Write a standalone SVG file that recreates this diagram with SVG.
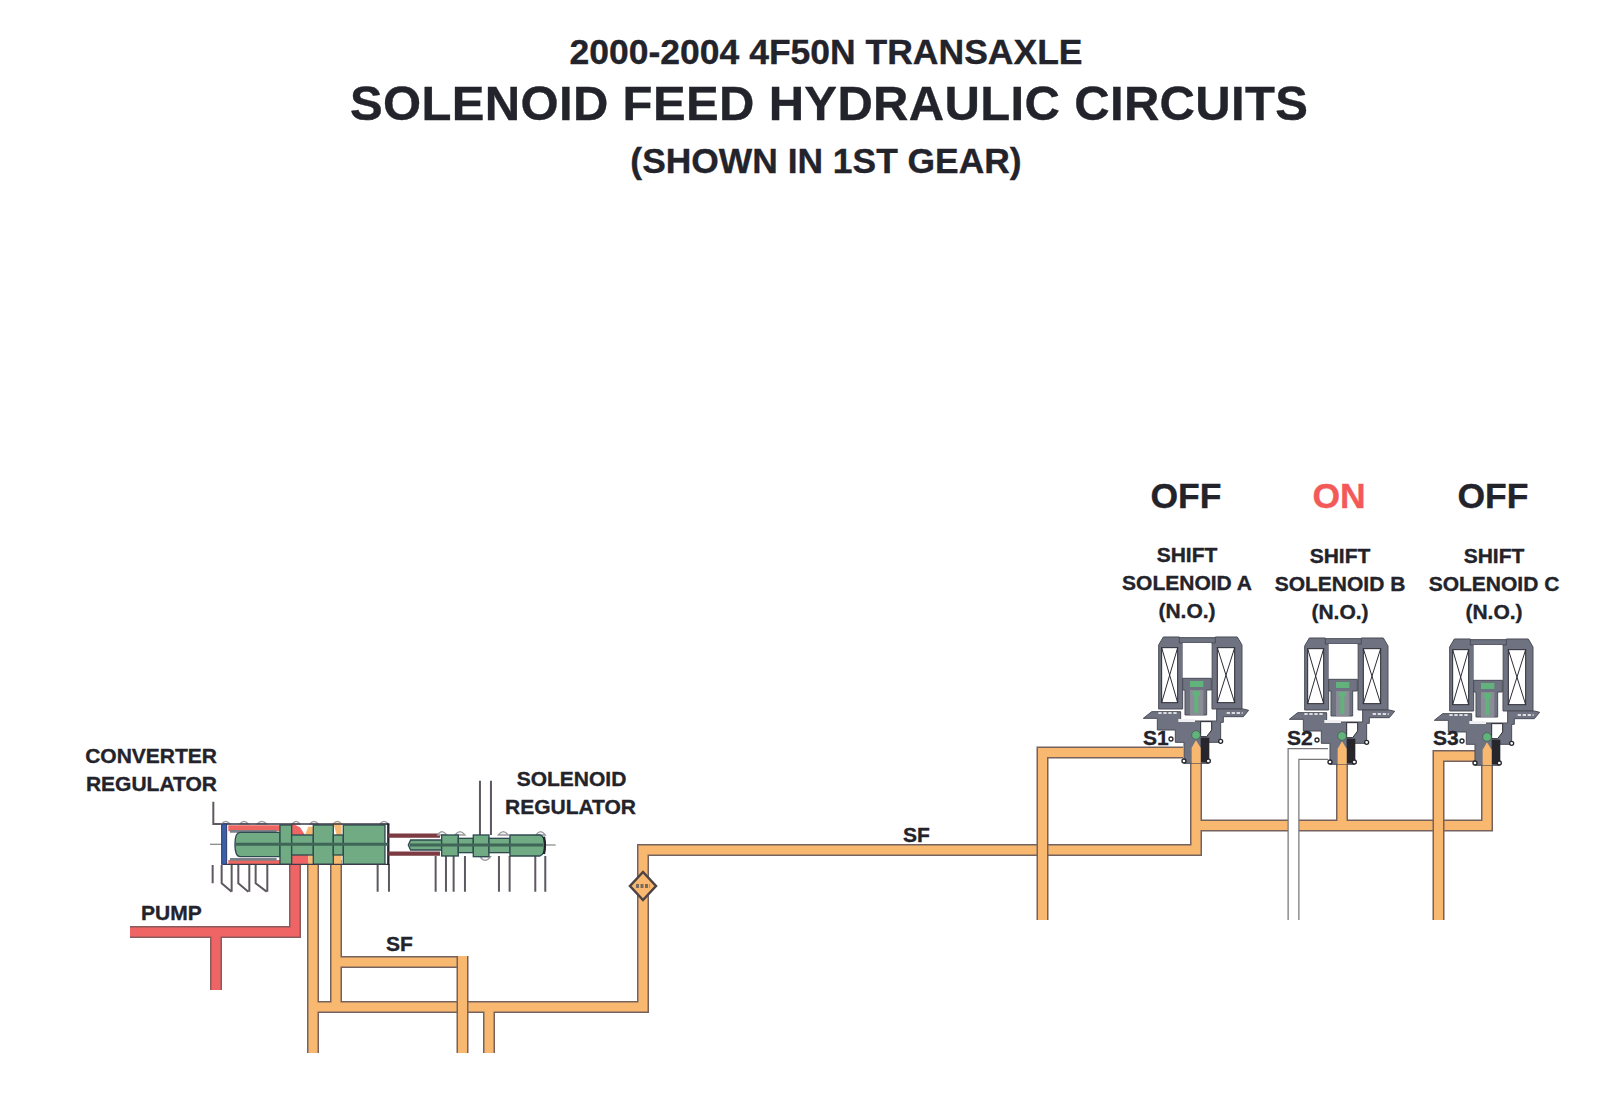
<svg xmlns="http://www.w3.org/2000/svg" xmlns:xlink="http://www.w3.org/1999/xlink" width="1600" height="1114" viewBox="0 0 1600 1114">
<style>
text{font-family:"Liberation Sans",Arial,sans-serif;font-weight:700;fill:#23232b;stroke:#23232b;stroke-width:.35}
.lab{font-size:21px}
.mid{text-anchor:middle}
.st{font-size:35.500px}
.po,.pf,.ro,.rf,.wo,.wf{fill:none;stroke-linejoin:miter}
.po{stroke:#75625f;stroke-width:12}
.pf{stroke:#f8b86f;stroke-width:9}
.ro{stroke:#8b5a5c;stroke-width:12}
.rf{stroke:#ef6464;stroke-width:9}
.wo{stroke:#77757a;stroke-width:12}
.wf{stroke:#fff;stroke-width:9.500}
.g{fill:#70ab84;stroke:#2f4a50;stroke-width:4}
.port{fill:none;stroke:#5e5860;stroke-width:6}
.bump{fill:#f4f4f2;stroke:#9a9aa0;stroke-width:4}
.axis{fill:none;stroke:#3f6657;stroke-width:9}
.stub{fill:none;stroke:#8d9290;stroke-width:4}
.h{fill:#6f7280;stroke:#4a4c56;stroke-width:3}
.thin{fill:#fff;stroke:#2b2b33;stroke-width:3}
</style>
<defs>
<g id="sol">
<path class="h" d="M146 90L160 66H208L218 85V282H146Z"/>
<path class="h" d="M306 85L316 66H382L396 90V282H306Z"/>
<path class="h" d="M208 68H316V84H208Z"/>
<rect x="218" y="84" width="86" height="106" fill="#fff"/>
<rect class="thin" x="155" y="98" width="48" height="165"/>
<path class="thin" fill="none" d="M155 98L203 263M203 98L155 263"/>
<rect class="thin" x="322" y="98" width="52" height="165"/>
<path class="thin" fill="none" d="M322 98L374 263M374 98L322 263"/>
<path class="h" d="M218 190H304V225H290V300H225V225H218Z"/>
<rect x="240" y="198" width="40" height="18" fill="#62b27c"/>
<rect x="240" y="225" width="40" height="75" fill="#8a8c96"/>
<rect x="248" y="228" width="22" height="14" fill="#62b27c"/>
<rect x="253" y="240" width="12" height="54" fill="#62b27c"/>
<path class="h" d="M100 310L125 290H212V318H320V282H400L416 286L400 305H340V322H332V382H295V445H222V382H196V345H142V310Z"/>
<path d="M145 294H205M350 294H398" stroke="#fff" stroke-width="5" stroke-dasharray="10 5" fill="none"/>
<rect x="205" y="312" width="50" height="9" fill="#f0f0f2"/>
<path d="M272 320H305V345L290 365H272Z" fill="#fff" stroke="#2b2b33" stroke-width="3"/>
<rect x="272" y="368" width="26" height="74" fill="#26262c"/>
<path d="M245 445V398L258 376L272 398V445Z" fill="#f8b86f"/>
<circle cx="258" cy="360" r="13" fill="#62b27c" stroke="#3c5a50" stroke-width="2"/>
<circle cx="183" cy="372" r="6" fill="#fff" stroke="#26262c" stroke-width="4"/>
<circle cx="332" cy="379" r="6" fill="#fff" stroke="#26262c" stroke-width="4"/>
<circle cx="222" cy="438" r="6" fill="#fff" stroke="#26262c" stroke-width="4"/>
<circle cx="295" cy="438" r="6" fill="#fff" stroke="#26262c" stroke-width="4"/>
</g>
</defs>
<rect width="1600" height="1114" fill="#fff"/>
<g id="title">
<text class="mid" x="826" y="64" font-size="35.500">2000-2004 4F50N TRANSAXLE</text>
<text class="mid" x="829" y="120" font-size="49" textLength="958" lengthAdjust="spacing">SOLENOID FEED HYDRAULIC CIRCUITS</text>
<text class="mid" x="826" y="173" font-size="35.400">(SHOWN IN 1ST GEAR)</text>
</g>
<g id="connectors">
<path class="ro" d="M130 932H295V858M216 932V990"/>
<path class="rf" d="M130 932H295V858M216 932V990"/>
<path class="po" d="M313 862V1053M336 860V1007M313 1007H643V850H1196V740M336 962H462.500M489 1007V1053M1196 825.500H1487V742M1342 825.500V742"/>
<path class="pf" d="M313 862V1053M336 860V1007M313 1007H643V850H1196V740M336 962H462.500M489 1007V1053M1196 825.500H1487V742M1342 825.500V742"/>
<path class="po" d="M1183 752.500H1042.500V920"/>
<path class="pf" d="M1183 752.500H1042.500V920"/>
<path class="po" d="M462.500 956V1053"/>
<path class="pf" d="M462.500 956V1053"/>
<path class="po" d="M1475 756H1438.500V920"/>
<path class="pf" d="M1475 756H1438.500V920"/>
<path class="wo" d="M1328 754H1293.500V920"/>
<path class="wf" d="M1328 754H1293.500V921"/>
</g>
<g id="converter-regulator">
<text class="lab" x="217" y="763" text-anchor="end">CONVERTER</text>
<text class="lab" x="217" y="791" text-anchor="end">REGULATOR</text>
<g transform="translate(60 720) scale(.3333)">
<path class="port" d="M460 245V312H485M458 435V490M485 435V490L515 515M515 435V515M535 435V490L565 515M568 435V515M587 435V490L620 515M622 435V515M953 433V515M987 433V515"/>
<path class="stub" d="M450 373H490"/>
<path class="bump" d="M485 312Q497 296 510 312ZM540 312Q552 296 565 312ZM592 312Q605 296 620 312ZM697 312Q708 296 720 312ZM750 312Q762 296 775 312ZM820 312Q832 296 845 312ZM960 312Q972 296 985 312Z"/>
<rect x="500" y="314" width="160" height="120" fill="#fff"/>
<path d="M505 316H660V334H505ZM505 420H660V433H505Z" fill="#ee6660"/>
<path d="M510 334H650M510 418H650" stroke="#7c8088" stroke-width="8"/>
<path d="M695 310L720 322L735 345H695ZM695 405H745V435H695Z" fill="#ef6464"/>
<path d="M735 345L745 320H760V345ZM745 405H760V435H745ZM820 308H845V345H830ZM820 405H845V435H820Z" fill="#f8b86f"/>
<path class="g" d="M540 337H660V410H540Q525 410 525 373Q525 337 540 337Z"/>
<rect class="g" x="660" y="315" width="35" height="118"/>
<rect class="g" x="695" y="345" width="65" height="60"/>
<rect class="g" x="760" y="315" width="60" height="118"/>
<rect class="g" x="820" y="345" width="30" height="60"/>
<rect class="g" x="850" y="315" width="125" height="118"/>
<path d="M490 312H985M490 433H985" stroke="#3a3c4a" stroke-width="4" fill="none"/>
<rect x="485" y="312" width="15" height="121" fill="#3b5fa8" stroke="#2c3a6a" stroke-width="3"/>
<path d="M985 310V435" stroke="#24242c" stroke-width="7"/>
<path class="axis" d="M525 373H985"/>
</g>
</g>
<g id="solenoid-regulator">
<text class="lab mid" x="571.500" y="786">SOLENOID</text>
<text class="lab mid" x="570.500" y="814">REGULATOR</text>
<g transform="translate(60 720) scale(.3333)">
<path class="port" d="M1260 182V345M1293 182V345M1127 408V515M1158 408V515M1181 408V515M1215 408V515M1317 408V515M1349 408V515M1426 408V515M1456 408V515"/>
<path class="stub" d="M1450 375H1487"/>
<path d="M985 347H1140M985 401H1140" stroke="#7c3b42" stroke-width="13" fill="none"/>
<path class="bump" d="M1133 345Q1146 325 1160 345ZM1185 345Q1200 325 1215 345ZM1315 345Q1330 325 1345 345ZM1428 345Q1442 325 1456 345ZM1260 410Q1275 432 1292 410Z"/>
<path class="g" d="M1045 375L1052 360H1145V390H1052Z"/>
<rect class="g" x="1145" y="345" width="50" height="63"/>
<rect class="g" x="1195" y="355" width="45" height="43"/>
<rect class="g" x="1240" y="345" width="47" height="65"/>
<rect class="g" x="1287" y="355" width="63" height="43"/>
<path class="g" d="M1350 345H1440Q1455 350 1455 376Q1455 402 1440 408H1350Z"/>
<path d="M1452 350Q1458 376 1452 402" stroke="#24242c" stroke-width="7" fill="none"/>
<path class="axis" d="M1050 375H1450"/>
</g>
</g>
<g id="check-ball">
<path d="M643 872L656 886L643 900L630 886Z" fill="#f8b86f" stroke="#4d4346" stroke-width="2.500"/>
<path d="M636 886H650" stroke="#7a6a5c" stroke-width="4" stroke-dasharray="3 1.500"/>
</g>
<g id="labels">
<text class="lab" x="141" y="920">PUMP</text>
<text class="lab" x="386" y="951">SF</text>
<text class="lab" x="903" y="842">SF</text>
</g>
<g id="solenoid-a">
<text class="st mid" x="1186" y="508">OFF</text>
<text class="lab mid" x="1187" y="562">SHIFT</text>
<text class="lab mid" x="1187" y="590">SOLENOID A</text>
<text class="lab mid" x="1187" y="618">(N.O.)</text>
<use href="#sol" xlink:href="#sol" transform="translate(1110 615) scale(.3333)"/>
<text class="lab" x="1143" y="745">S1</text>
</g>
<g id="solenoid-b">
<text class="st mid" x="1339" y="508" style="fill:#f4595a;stroke:#f4595a">ON</text>
<text class="lab mid" x="1340" y="563">SHIFT</text>
<text class="lab mid" x="1340" y="591">SOLENOID B</text>
<text class="lab mid" x="1340" y="619">(N.O.)</text>
<use href="#sol" xlink:href="#sol" transform="translate(1256 616) scale(.3333)"/>
<text class="lab" x="1287" y="745">S2</text>
</g>
<g id="solenoid-c">
<text class="st mid" x="1493" y="508">OFF</text>
<text class="lab mid" x="1494" y="563">SHIFT</text>
<text class="lab mid" x="1494" y="591">SOLENOID C</text>
<text class="lab mid" x="1494" y="619">(N.O.)</text>
<use href="#sol" xlink:href="#sol" transform="translate(1401 617) scale(.3333)"/>
<text class="lab" x="1433" y="745">S3</text>
</g>
</svg>
